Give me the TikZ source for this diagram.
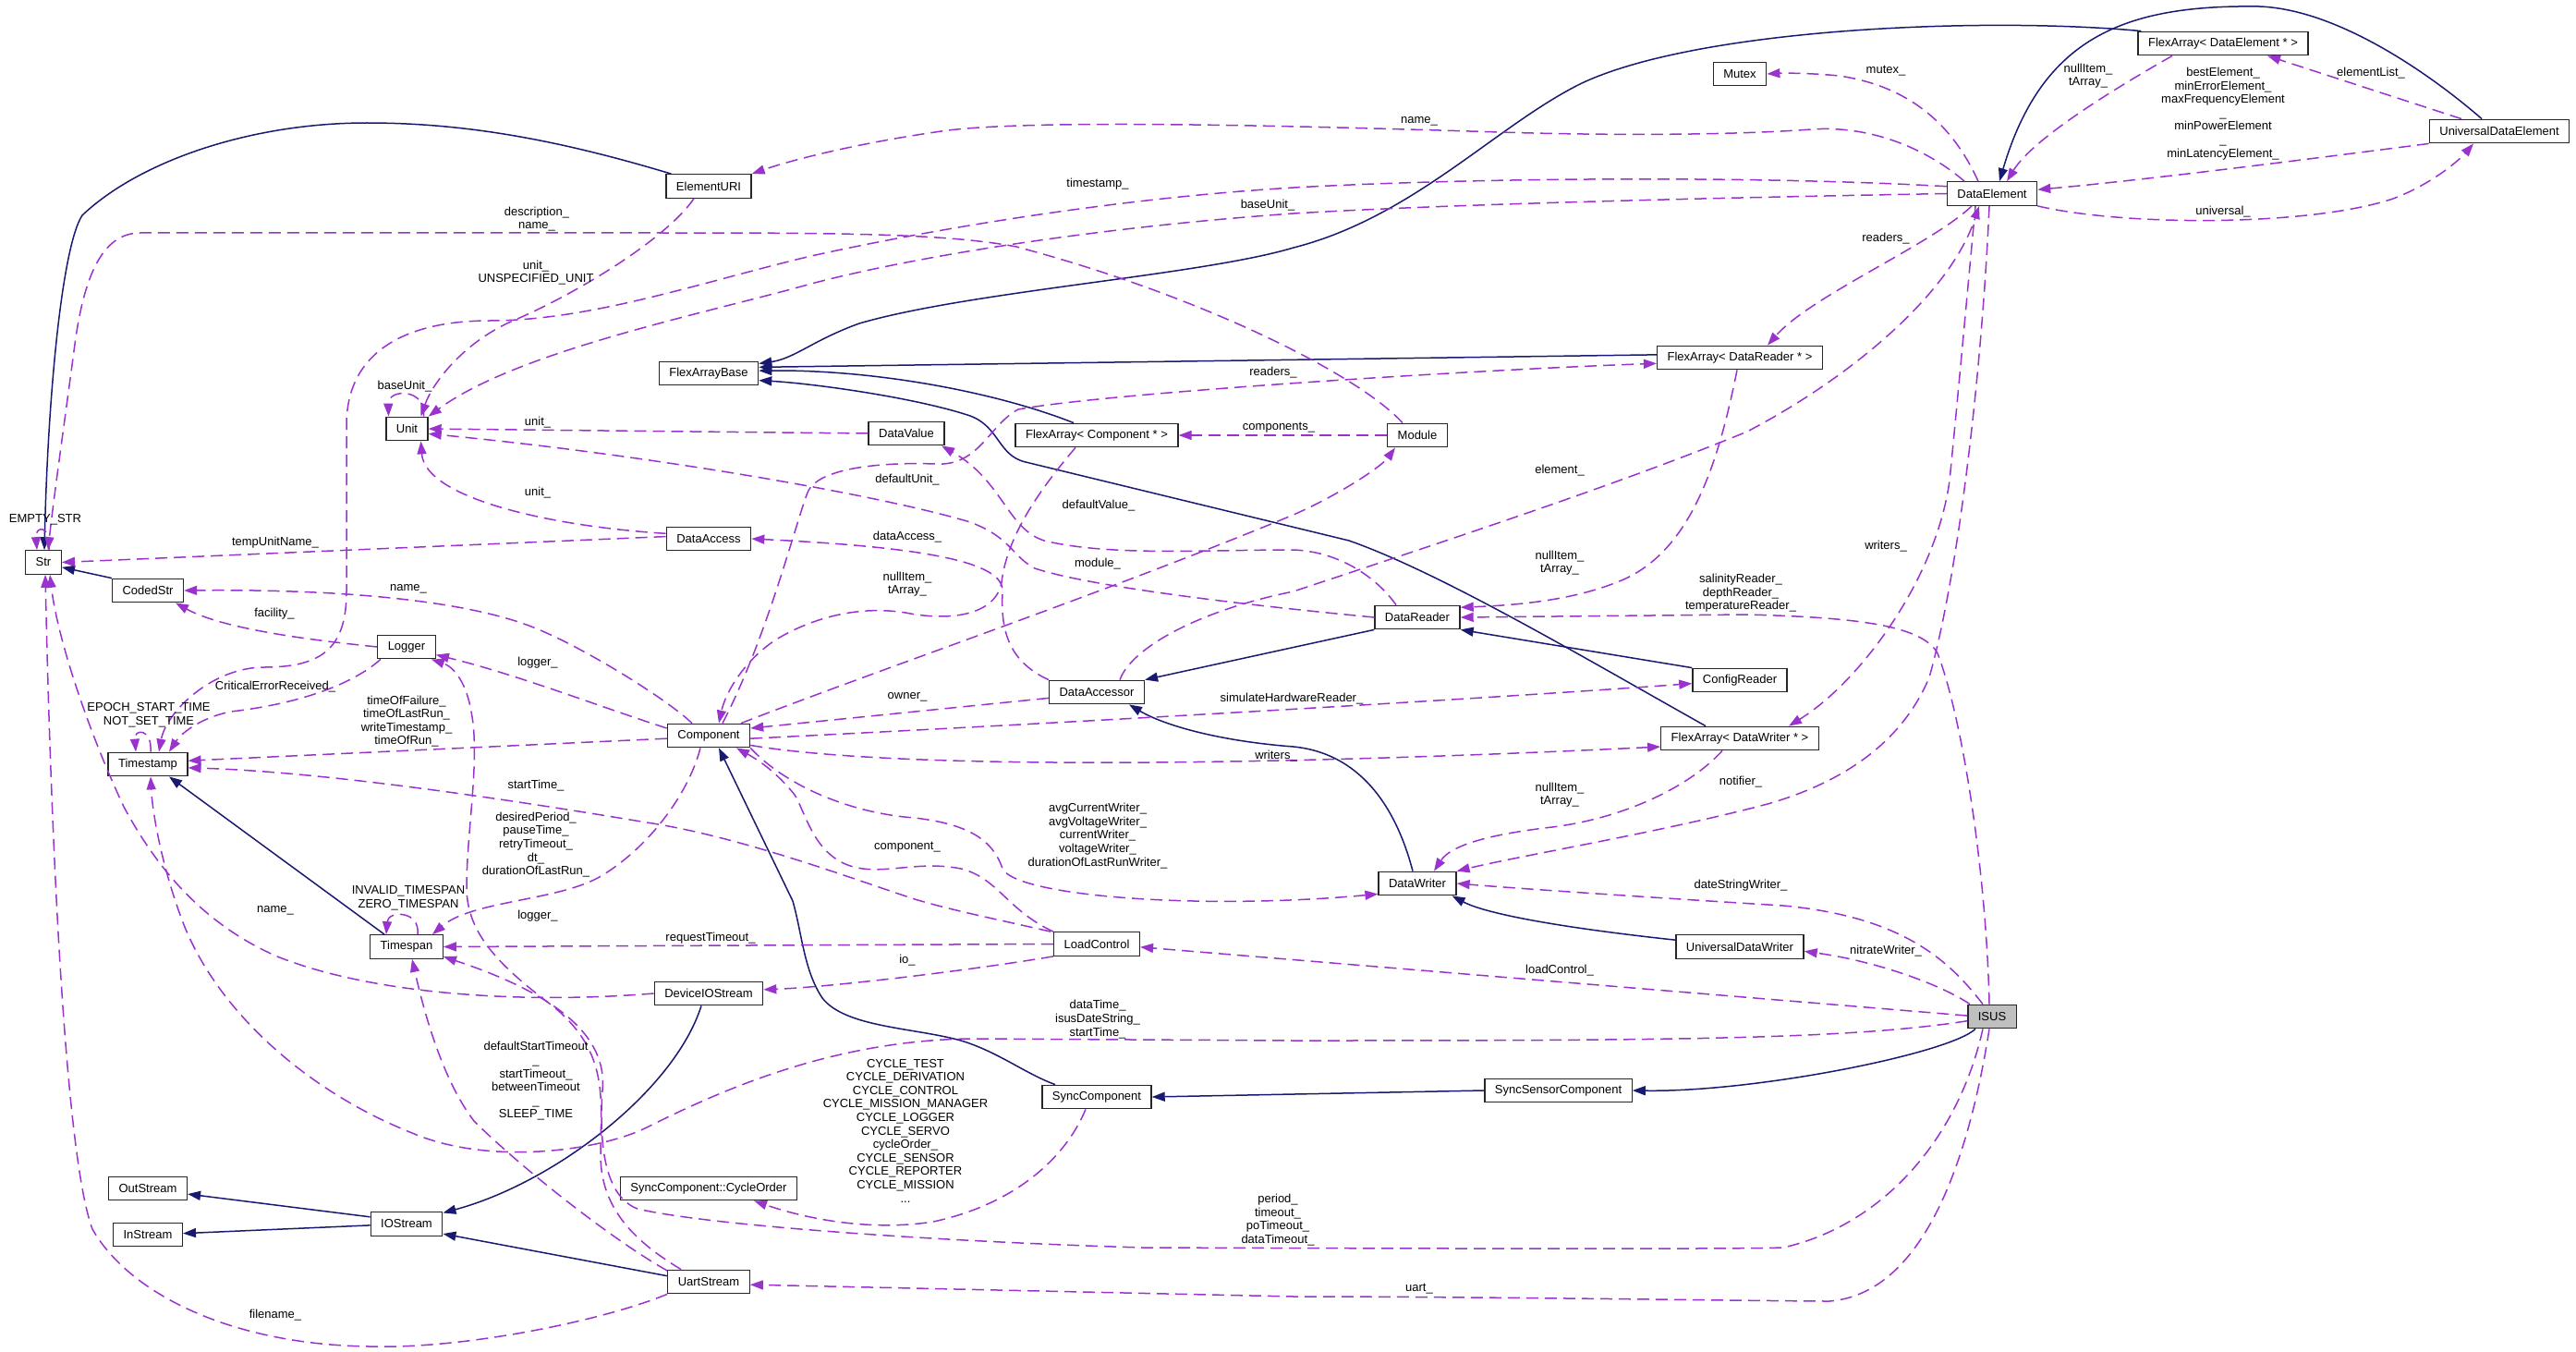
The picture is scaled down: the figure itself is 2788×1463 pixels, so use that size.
\documentclass[tikz,border=0pt]{standalone}
\usepackage{fontspec}
\setmainfont{Liberation Sans}
\usetikzlibrary{arrows.meta}
\definecolor{inhblue}{HTML}{191970}
\definecolor{memviolet}{HTML}{9A32CD}
\begin{document}
\begin{tikzpicture}[x=1pt,y=-1pt,
  cls/.style={draw=black!85, line width=1.3pt, fill=white, minimum height=25.5pt,
    inner xsep=11pt, inner ysep=0pt, font=\fontsize{13}{14.6}\selectfont},
  lbl/.style={inner sep=0pt, align=center, font=\fontsize{13}{14.6}\selectfont},
  inh/.style={draw=inhblue, line width=1.5pt, -{Triangle[length=14pt,width=10pt]}},
  mem/.style={draw=memviolet, line width=1.5pt, dash pattern=on 13pt off 7pt,
    -{Triangle[length=14pt,width=10pt]}}]
\useasboundingbox (0,0) rectangle (2788,1463);
% Classes
\node[cls] (Str) at (47,608.5) {Str};
\node[cls] (CodedStr) at (160,639) {CodedStr};
\node[cls] (Timestamp) at (160,827) {Timestamp};
\node[cls] (OutStream) at (160,1286) {OutStream};
\node[cls] (InStream) at (160,1336) {InStream};
\node[cls] (Unit) at (440.5,464) {Unit};
\node[cls] (Logger) at (440,700) {Logger};
\node[cls] (Timespan) at (440,1024.5) {Timespan};
\node[cls] (IOStream) at (440,1324.5) {IOStream};
\node[cls] (ElementURI) at (767,201.5) {ElementURI};
\node[cls] (FlexArrayBase) at (767,404) {FlexArrayBase};
\node[cls] (DataAccess) at (767,583) {DataAccess};
\node[cls] (Component) at (767,796) {Component};
\node[cls] (DeviceIOStream) at (767,1075) {DeviceIOStream};
\node[cls] (CycleOrder) at (767,1286) {SyncComponent::CycleOrder};
\node[cls] (UartStream) at (767,1387) {UartStream};
\node[cls] (DataValue) at (981,469) {DataValue};
\node[cls] (FAComponent) at (1187,471) {FlexArray< Component * >};
\node[cls] (DataAccessor) at (1187,749) {DataAccessor};
\node[cls] (LoadControl) at (1187,1021.5) {LoadControl};
\node[cls] (SyncComponent) at (1187,1187) {SyncComponent};
\node[cls] (Module) at (1534,471) {Module};
\node[cls] (DataReader) at (1534,668) {DataReader};
\node[cls] (DataWriter) at (1534,956) {DataWriter};
\node[cls] (SyncSensor) at (1686.5,1180) {SyncSensorComponent};
\node[cls] (Mutex) at (1883,80) {Mutex};
\node[cls] (FAReader) at (1883,387) {FlexArray< DataReader * >};
\node[cls] (ConfigReader) at (1883,736) {ConfigReader};
\node[cls] (FAWriter) at (1883,799) {FlexArray< DataWriter * >};
\node[cls] (UDWriter) at (1883,1024.5) {UniversalDataWriter};
\node[cls] (DataElement) at (2156,209.5) {DataElement};
\node[cls, fill=black!25] (ISUS) at (2156,1100) {ISUS};
\node[cls] (FAElement) at (2406,47) {FlexArray< DataElement * >};
\node[cls] (UDElement) at (2705,142) {UniversalDataElement};
% Inheritance
\draw[inh] ([xshift=6]ElementURI.north west) .. controls (600,150) and (500,133) .. (397,133)
  .. controls (270,133) and (150,175) .. (89,233)
  .. controls (68,265) and (52,420) .. ([xshift=1]Str.north);
\draw[inh] (CodedStr.north west) -- (Str.-15);
\draw[inh] ([xshift=16]Timespan.north west) -- ([xshift=23]Timestamp.south);
\draw[inh] ([xshift=4]FAElement.north west) .. controls (2150,18) and (1840,30) .. (1712,90)
  .. controls (1620,135) and (1530,235) .. (1400,268)
  .. controls (1300,298) and (1050,315) .. (930,350)
  .. controls (880,368) and (860,388) .. (FlexArrayBase.11);
\draw[inh] (FAReader.178) -- (FlexArrayBase.7);
\draw[inh] ([xshift=-25]FAComponent.north) .. controls (1080,425) and (950,400) .. (FlexArrayBase.3);
\draw[inh] ([xshift=-37]FAWriter.north) .. controls (1720,715) and (1560,620) .. (1460,585)
  -- (1110,500) .. controls (1080,493) and (1082,462) .. (1050,450)
  .. controls (990,430) and (880,415) .. (FlexArrayBase.-8);
\draw[inh] (DataReader.south west) -- (DataAccessor.north east);
\draw[inh] (ConfigReader.north west) -- (DataReader.south east);
\draw[inh] ([xshift=-5]DataWriter.north) .. controls (1510,870) and (1470,815) .. (1400,808)
  .. controls (1320,802) and (1260,785) .. ([xshift=35]DataAccessor.south);
\draw[inh] (UDWriter.174) .. controls (1700,1005) and (1610,990) .. ([xshift=-5]DataWriter.south east);
\draw[inh] ([xshift=-45]SyncComponent.north) .. controls (1110,1162) and (1080,1138) .. (1040,1126)
  .. controls (990,1112) and (915,1112) .. (890,1080)
  .. controls (870,1050) and (868,1010) .. (858,975) -- ([xshift=11]Component.south);
\draw[inh] (SyncSensor.west) -- (SyncComponent.east);
\draw[inh] ([xshift=-18]ISUS.south) .. controls (2110,1140) and (1900,1182) .. (SyncSensor.east);
\draw[inh] ([xshift=-8]DeviceIOStream.south) .. controls (730,1180) and (600,1280) .. (IOStream.17);
\draw[inh] (UartStream.172) -- (IOStream.-15);
\draw[inh] (IOStream.169) -- (OutStream.-8);
\draw[inh] (IOStream.-178) -- (InStream.2);
\draw[inh] ([xshift=-19]UDElement.north) .. controls (2630,80) and (2530,10) .. (2445,7)
  .. controls (2300,5) and (2210,40) .. ([xshift=8]DataElement.north);
% Members
\draw[mem] ([xshift=-16]Module.north) .. controls (1470,405) and (1300,320) .. (1100,267)
  .. controls (1020,252) and (900,252) .. (700,252) -- (152,252)
  .. controls (110,252) and (90,300) .. (80,380)
  .. controls (68,470) and (58,540) .. ([xshift=5]Str.north);
\draw[mem] ([xshift=6]Str.north) .. controls (56,568) and (38,568) .. ([xshift=-7]Str.north);
\draw[mem] ([xshift=-16]ElementURI.south) .. controls (720,260) and (620,320) .. (553,348)
  .. controls (500,372) and (468,415) .. ([xshift=15]Unit.north);
\draw[mem] (DataElement.west) .. controls (1800,215) and (1550,222) .. (1400,231)
  .. controls (1200,245) and (1000,275) .. (878,307)
  .. controls (760,340) and (560,380) .. (Unit.north east);
\draw[mem] (DataElement.171) .. controls (1900,190) and (1600,192) .. (1400,203)
  .. controls (1200,215) and (1000,250) .. (878,277)
  .. controls (760,305) and (640,347) .. (530,347)
  .. controls (440,347) and (375,380) .. (375,460) -- (375,640)
  .. controls (375,700) and (350,722) .. (286,722)
  .. controls (230,722) and (180,770) .. ([xshift=12]Timestamp.north);
\draw[mem] ([xshift=18]Unit.north) .. controls (462,420) and (420,420) .. ([xshift=-20]Unit.north);
\draw[mem] (DataValue.west) -- (Unit.east);
\draw[mem] (DataAccess.173) .. controls (600,570) and (460,540) .. ([xshift=15]Unit.south);
\draw[mem] (DataReader.west) .. controls (1350,655) and (1180,635) .. (1120,615)
  .. controls (1095,602) and (1095,582) .. (1050,565)
  .. controls (950,535) and (700,492) .. (Unit.-13);
\draw[mem] ([xshift=-23]DataReader.north) .. controls (1490,625) and (1450,597) .. (1400,595)
  .. controls (1300,595) and (1200,602) .. (1130,585)
  .. controls (1090,572) and (1085,520) .. ([xshift=38]DataValue.south);
\draw[mem] ([xshift=35]Component.north) .. controls (950,725) and (1200,640) .. (1400,557)
  .. controls (1450,535) and (1495,505) .. ([xshift=-24]Module.south);
\draw[mem] (DataAccessor.north west) .. controls (1090,715) and (1083,680) .. (1085,640)
  .. controls (1087,608) and (1000,592) .. (DataAccess.east);
\draw[mem] ([xshift=-23]FAComponent.south) .. controls (1125,530) and (1090,580) .. (1084,630)
  .. controls (1078,665) and (1030,673) .. (980,663)
  .. controls (930,655) and (880,668) .. (840,692)
  .. controls (805,715) and (785,750) .. ([xshift=11]Component.north);
\draw[mem] ([xshift=15]Component.north) .. controls (830,690) and (860,570) .. (874,533)
  .. controls (885,505) and (960,500) .. (1012,502)
  .. controls (1060,505) and (1070,460) .. (1102,443)
  .. controls (1200,425) and (1600,400) .. (FAReader.-176);
\draw[mem] (DataAccessor.-173) -- (Component.10);
\draw[mem] (Component.-4) .. controls (1100,785) and (1550,760) .. (ConfigReader.-176);
\draw[mem] (Component.-13) .. controls (950,830) and (1300,832) .. (FAWriter.-174);
\draw[mem] (Component.south east) .. controls (850,850) and (920,880) .. (990,885)
  .. controls (1050,892) and (1075,910) .. (1085,940)
  .. controls (1100,970) and (1300,985) .. (DataWriter.-165);
\draw[mem] (LoadControl.north west) .. controls (1090,985) and (1080,950) .. (1040,940)
  .. controls (990,930) and (950,950) .. (915,935)
  .. controls (880,920) and (872,880) .. (860,860)
  .. controls (840,835) and (820,822) .. ([xshift=30]Component.south);
\draw[mem] (Component.-176) -- (Timestamp.5);
\draw[mem] (Component.170) .. controls (650,765) and (560,730) .. (Logger.-15);
\draw[mem] ([xshift=-18]Component.north) .. controls (720,755) and (630,700) .. (580,680)
  .. controls (520,655) and (400,637) .. (CodedStr.east);
\draw[mem] ([xshift=-9]Component.south) .. controls (745,860) and (700,920) .. (647,950)
  .. controls (600,975) and (510,975) .. ([xshift=28]Timespan.north);
\draw[mem] ([xshift=12]Timespan.north) .. controls (455,985) and (420,985) .. ([xshift=-22]Timespan.north);
\draw[mem] ([xshift=3]Timestamp.north) .. controls (165,788) and (145,788) .. ([xshift=-13]Timestamp.north);
\draw[mem] (DataAccess.177) -- (Str.east);
\draw[mem] (Logger.west) .. controls (330,692) and (240,680) .. ([xshift=30]CodedStr.south);
\draw[mem] ([xshift=-28]Logger.south) .. controls (380,742) and (320,762) .. (250,770)
  .. controls (215,777) and (195,795) .. ([xshift=23]Timestamp.north);
\draw[mem] ([xshift=-30]UartStream.north) .. controls (690,1345) and (650,1310) .. (650,1250)
  .. controls (650,1190) and (660,1140) .. (600,1090)
  .. controls (540,1045) and (505,1010) .. (505,960)
  .. controls (505,900) and (520,820) .. (510,770)
  .. controls (505,740) and (492,722) .. ([xshift=-5]Logger.south east);
\draw[mem] (UartStream.165) .. controls (660,1340) and (560,1260) .. (513,1213)
  .. controls (480,1170) and (460,1100) .. ([xshift=6]Timespan.south);
\draw[mem] (UartStream.south west) .. controls (650,1430) and (500,1460) .. (400,1457)
  .. controls (250,1455) and (140,1400) .. (100,1330)
  .. controls (70,1250) and (55,900) .. ([xshift=2]Str.south);
\draw[mem] (DeviceIOStream.west) .. controls (560,1087) and (400,1075) .. (300,1035)
  .. controls (220,1000) and (170,940) .. (134,873)
  .. controls (95,790) and (62,690) .. ([xshift=7]Str.south);
\draw[mem] (ISUS.-170) .. controls (2000,1125) and (1800,1126) .. (1400,1126) -- (1050,1124)
  .. controls (900,1126) and (780,1180) .. (700,1220)
  .. controls (650,1245) and (530,1262) .. (446,1226)
  .. controls (330,1180) and (230,1090) .. (195,990)
  .. controls (175,935) and (165,880) .. ([xshift=3]Timestamp.south);
\draw[mem] ([xshift=-10]ISUS.south) .. controls (2120,1230) and (2040,1325) .. (1930,1350)
  .. controls (1880,1352) and (1500,1351) .. (1236,1350)
  .. controls (1000,1343) and (760,1325) .. (690,1308)
  .. controls (655,1295) and (648,1240) .. (652,1180)
  .. controls (658,1120) and (600,1075) .. (Timespan.-15);
\draw[mem] ([xshift=-3]ISUS.south) .. controls (2130,1260) and (2080,1400) .. (1980,1408)
  .. controls (1920,1408) and (1600,1403) .. (1400,1403) -- (UartStream.-4);
\draw[mem] (ISUS.178) -- (LoadControl.-4);
\draw[mem] ([xshift=-24]ISUS.north) .. controls (2100,1065) and (2030,1040) .. (UDWriter.-4);
\draw[mem] ([xshift=-10]ISUS.north) .. controls (2110,1040) and (2060,992) .. (1930,980)
  .. controls (1800,972) and (1650,962) .. (DataWriter.east);
\draw[mem] ([xshift=-3]ISUS.north) .. controls (2150,950) and (2125,780) .. (2097,707)
  .. controls (2080,675) and (2000,668) .. (1891,665) -- (DataReader.east);
\draw[mem] ([xshift=-3]DataElement.south) .. controls (2145,400) and (2120,620) .. (2088,733)
  .. controls (2060,800) and (2000,845) .. (1913,870)
  .. controls (1800,900) and (1650,925) .. (DataWriter.north east);
\draw[mem] ([xshift=-18]DataElement.south) .. controls (2128,330) and (2118,440) .. (2110,520)
  .. controls (2095,630) and (2010,740) .. ([xshift=53]FAWriter.north);
\draw[mem] ([xshift=25]DataAccessor.north) .. controls (1225,700) and (1300,660) .. (1400,640)
  .. controls (1550,590) and (1750,525) .. (1891,467)
  .. controls (2000,410) and (2110,320) .. ([xshift=-14]DataElement.south);
\draw[mem] ([xshift=-22]DataElement.south) .. controls (2090,265) and (1960,320) .. ([xshift=30]FAReader.north);
\draw[mem] ([xshift=-3]FAReader.south) .. controls (1860,500) and (1830,600) .. (1750,630)
  .. controls (1700,650) and (1640,655) .. (DataReader.13);
\draw[mem] ([xshift=-19]FAWriter.south) .. controls (1830,850) and (1760,885) .. (1680,895)
  .. controls (1610,903) and (1570,915) .. ([xshift=18]DataWriter.north);
\draw[mem] ([xshift=-55]FAElement.south) .. controls (2290,95) and (2200,150) .. ([xshift=16]DataElement.north);
\draw[mem] (UDElement.south west) .. controls (2500,172) and (2320,195) .. (DataElement.5);
\draw[mem] (DataElement.south east) .. controls (2300,245) and (2500,245) .. (2590,215)
  .. controls (2630,200) and (2660,175) .. ([xshift=-28]UDElement.south);
\draw[mem] ([xshift=-41]UDElement.north) -- ([xshift=48]FAElement.south);
\draw[mem] ([xshift=-15]DataElement.north) .. controls (2120,150) and (2080,95) .. (1990,82)
  .. controls (1960,79) and (1930,79) .. (Mutex.east);
\draw[mem] ([xshift=-30]DataElement.north) .. controls (2090,165) and (2030,135) .. (1960,140)
  .. controls (1880,146) and (1750,147) .. (1623,143)
  .. controls (1400,136) and (1100,128) .. (1012,143)
  .. controls (930,155) and (860,172) .. (ElementURI.north east);
\draw[mem] (Module.west) -- (FAComponent.east);
\draw[mem] ([xshift=-12]SyncComponent.south) .. controls (1150,1260) and (1090,1305) .. (1010,1322)
  .. controls (940,1333) and (870,1318) .. ([xshift=49]CycleOrder.south);
\draw[mem] (LoadControl.west) -- (Timespan.east);
\draw[mem] (LoadControl.south west) .. controls (1050,1050) and (900,1068) .. (DeviceIOStream.4);
\draw[mem] ([xshift=-50]LoadControl.north) .. controls (1080,995) and (1030,985) .. (990,973)
  .. controls (920,950) and (800,905) .. (700,890)
  .. controls (550,865) and (350,835) .. (Timestamp.-5);
% Labels
\node[lbl] (lDescr) at (581,237) {description\_\\name\_};
\node[lbl] (lUnitURI) at (580,295) {unit\_\\UNSPECIFIED\_UNIT};
\node[lbl] (lBaseSelf) at (438,418) {baseUnit\_};
\node[lbl] (lUnitDV) at (582,457) {unit\_};
\node[lbl] (lUnitDA) at (582,533) {unit\_};
\node[lbl] (lStamp) at (1188,199) {timestamp\_};
\node[lbl] (lBaseDE) at (1372,222) {baseUnit\_};
\node[lbl] (lReadersC) at (1378,403) {readers\_};
\node[lbl] (lComps) at (1384,463) {components\_};
\node[lbl] (lMutex) at (2041,77) {mutex\_};
\node[lbl] (lNameDE) at (1536,131) {name\_};
\node[lbl] (lReadersDE) at (2041,258) {readers\_};
\node[lbl] (lNullDE) at (2260,82) {nullItem\_\\tArray\_};
\node[lbl] (lBest) at (2406,123) {bestElement\_\\minErrorElement\_\\maxFrequencyElement\\\_\\minPowerElement\\\_\\minLatencyElement\_};
\node[lbl] (lElemList) at (2566,79) {elementList\_};
\node[lbl] (lUniversal) at (2406,229) {universal\_};
\node[lbl] (lEmpty) at (49,562) {EMPTY\_STR};
\node[lbl] (lTempUnit) at (298,587) {tempUnitName\_};
\node[lbl] (lNameC) at (442,637) {name\_};
\node[lbl] (lFacility) at (297,664) {facility\_};
\node[lbl] (lLoggerC) at (582,717) {logger\_};
\node[lbl] (lCritical) at (298,743) {CriticalErrorReceived\_};
\node[lbl] (lEpoch) at (161,774) {EPOCH\_START\_TIME\\NOT\_SET\_TIME};
\node[lbl] (lTimeOf) at (440,780.5) {timeOfFailure\_\\timeOfLastRun\_\\writeTimestamp\_\\timeOfRun\_};
\node[lbl] (lStartLC) at (580,850) {startTime\_};
\node[lbl] (lPeriod) at (580,914) {desiredPeriod\_\\pauseTime\_\\retryTimeout\_\\dt\_\\durationOfLastRun\_};
\node[lbl] (lInvalid) at (442,971.5) {INVALID\_TIMESPAN\\ZERO\_TIMESPAN};
\node[lbl] (lDefUnit) at (982,519) {defaultUnit\_};
\node[lbl] (lDefValue) at (1189,547) {defaultValue\_};
\node[lbl] (lDataAccess) at (982,581) {dataAccess\_};
\node[lbl] (lModule) at (1188,610) {module\_};
\node[lbl] (lNullC) at (982,632) {nullItem\_\\tArray\_};
\node[lbl] (lOwner) at (982,754) {owner\_};
\node[lbl] (lSimulate) at (1398,756) {simulateHardwareReader\_};
\node[lbl] (lWritersC) at (1381,818) {writers\_};
\node[lbl] (lAvg) at (1188,904.5) {avgCurrentWriter\_\\avgVoltageWriter\_\\currentWriter\_\\voltageWriter\_\\durationOfLastRunWriter\_};
\node[lbl] (lComponent) at (982,917) {component\_};
\node[lbl] (lElement) at (1688,509) {element\_};
\node[lbl] (lNullR) at (1688,609) {nullItem\_\\tArray\_};
\node[lbl] (lWritersDE) at (2041,591) {writers\_};
\node[lbl] (lSalinity) at (1884,642) {salinityReader\_\\depthReader\_\\temperatureReader\_};
\node[lbl] (lNullW) at (1688,860) {nullItem\_\\tArray\_};
\node[lbl] (lNotifier) at (1884,846) {notifier\_};
\node[lbl] (lDateString) at (1884,958) {dateStringWriter\_};
\node[lbl] (lNameDIO) at (298,985) {name\_};
\node[lbl] (lLoggerU) at (582,991) {logger\_};
\node[lbl] (lTimeouts) at (580,1170) {defaultStartTimeout\\\_\\startTimeout\_\\betweenTimeout\\\_\\SLEEP\_TIME};
\node[lbl] (lFilename) at (298,1423) {filename\_};
\node[lbl] (lRequest) at (769,1015) {requestTimeout\_};
\node[lbl] (lIo) at (982,1039) {io\_};
\node[lbl] (lDataTime) at (1188,1103) {dataTime\_\\isusDateString\_\\startTime\_};
\node[lbl] (lCycle) at (980,1223.5) {CYCLE\_TEST\\CYCLE\_DERIVATION\\CYCLE\_CONTROL\\CYCLE\_MISSION\_MANAGER\\CYCLE\_LOGGER\\CYCLE\_SERVO\\cycleOrder\_\\CYCLE\_SENSOR\\CYCLE\_REPORTER\\CYCLE\_MISSION\\...};
\node[lbl] (lPeriodISUS) at (1383,1320) {period\_\\timeout\_\\poTimeout\_\\dataTimeout\_};
\node[lbl] (lNitrate) at (2041,1029) {nitrateWriter\_};
\node[lbl] (lLoadControl) at (1688,1050) {loadControl\_};
\node[lbl] (lUart) at (1536,1395) {uart\_};
\end{tikzpicture}
\end{document}
